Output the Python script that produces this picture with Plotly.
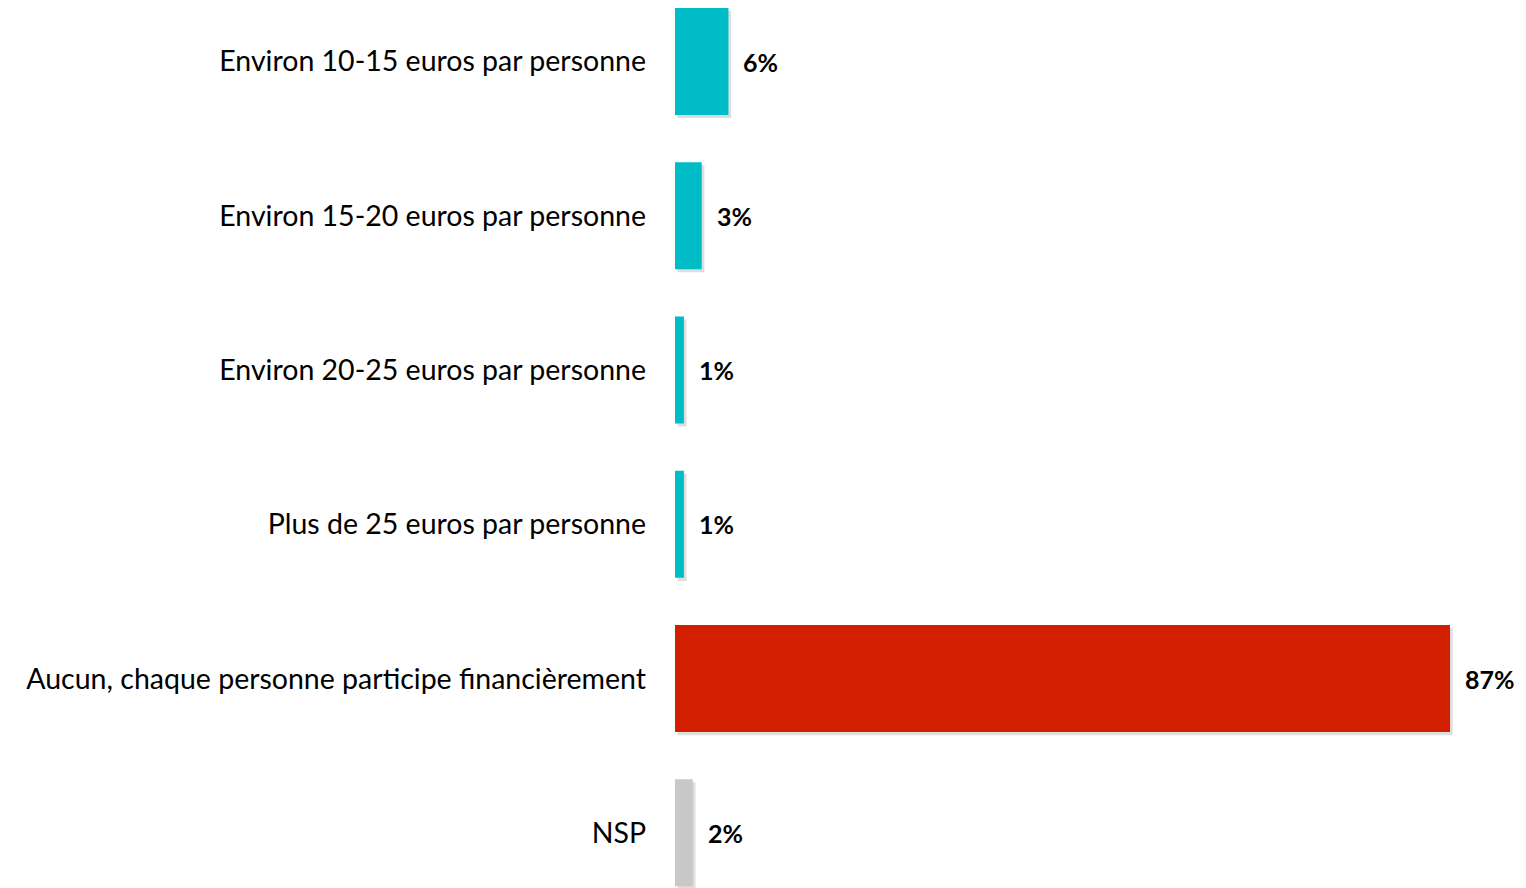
import plotly.graph_objects as go

categories = [
    "Environ 10-15 euros par personne",
    "Environ 15-20 euros par personne",
    "Environ 20-25 euros par personne",
    "Plus de 25 euros par personne",
    "Aucun, chaque personne participe financièrement",
    "NSP",
]
values = [6, 3, 1, 1, 87, 2]
value_labels = ["6%", "3%", "1%", "1%", "87%", "2%"]
colors = ["#00BCC6", "#00BCC6", "#00BCC6", "#00BCC6", "#D11F00", "#C8C8C8"]

FONT = "Lato"
bar_w = 0.694

fig = go.Figure()
# soft shadow
fig.add_trace(go.Bar(
    y=categories, x=values, orientation="h",
    base=0.3, width=bar_w, offset=-bar_w / 2 + 0.02,
    marker=dict(color="rgba(0,0,0,0.13)", line=dict(width=0)),
    hoverinfo="skip", showlegend=False,
))
fig.add_trace(go.Bar(
    y=categories, x=values, orientation="h",
    width=bar_w, offset=-bar_w / 2,
    marker=dict(color=colors, line=dict(width=0)),
    showlegend=False,
))

for c, v, t in zip(categories, values, value_labels):
    fig.add_annotation(
        x=v, y=c, text=f"<b>{t}</b>", showarrow=False,
        xanchor="left", yanchor="middle", xshift=13,
        font=dict(family=FONT, size=25, color="#000000"),
    )

fig.update_layout(
    width=1518, height=880,
    margin=dict(l=667, r=0, t=0, b=0),
    paper_bgcolor="white", plot_bgcolor="white",
    barmode="overlay",
    font=dict(family=FONT, size=28.5, color="#000000"),
    xaxis=dict(range=[0, 95.53], visible=False, fixedrange=True),
    yaxis=dict(
        range=[5.358, -0.3468], showgrid=False, zeroline=False,
        showline=False, ticks="", ticklabelstandoff=28,
        tickfont=dict(family=FONT, size=28.5, color="#000000"),
        fixedrange=True,
    ),
)

fig.write_html("out.html")
